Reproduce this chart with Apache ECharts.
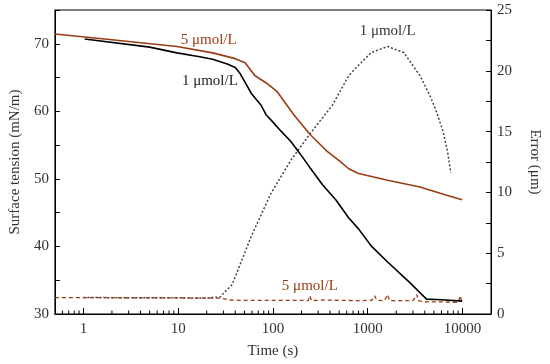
<!DOCTYPE html>
<html><head><meta charset="utf-8">
<script src="https://cdn.jsdelivr.net/npm/echarts@6/dist/echarts.min.js"></script>
<style>html,body{margin:0;padding:0;background:#fff}#c{width:550px;height:364px}</style>
</head><body><div id="c"></div>
<script>
// Surface tension, 1 umol/L (left axis)
const st1Time = [1.03, 5, 9.7, 16.9, 23.1, 33, 40, 45, 50.8, 59.5, 75, 84.5, 100, 121, 153, 194, 245, 335, 460, 631, 800, 1100, 1622, 2800, 4170, 6000, 9930];
const st1Val  = [70.7, 69.5, 68.65, 68.07, 67.7, 67.0, 66.5, 65.6, 64.3, 62.6, 60.9, 59.5, 58.4, 57.1, 55.6, 53.7, 51.7, 49.1, 46.9, 44.2, 42.6, 40.0, 37.7, 34.6, 32.2, 32.1, 31.9];
// Surface tension, 5 umol/L (left axis)
const st5Time = [0.5, 2, 9.7, 23.1, 40, 50.8, 64.3, 85, 111, 166, 245, 365, 499, 631, 800, 1622, 3560, 6660, 9930];
const st5Val  = [71.45, 70.6, 69.6, 68.65, 67.8, 67.2, 65.3, 64.2, 62.9, 59.5, 56.6, 54.2, 52.7, 51.5, 50.8, 49.8, 48.8, 47.6, 46.9];
// Error, 1 umol/L (right axis)
const er1Time = [1, 5, 10, 20, 27.9, 29.2, 37, 59.5, 95, 153, 245, 426, 631, 741, 1090, 1622, 2405, 3560, 4510, 5280, 6190, 6950, 7530];
const er1Val  = [1.35, 1.34, 1.33, 1.32, 1.4, 1.6, 2.4, 6.45, 9.9, 12.6, 14.8, 17.2, 19.6, 20.2, 21.5, 22.0, 21.5, 19.6, 18.0, 16.7, 15.1, 13.4, 11.6];
// Error, 5 umol/L (right axis)
const er5Time = [0.5, 1, 2, 5, 10, 20, 28, 35, 50, 80, 120, 200, 235, 245, 255, 350, 500, 800, 1100, 1180, 1250, 1500, 1620, 1700, 2000, 3000, 3300, 3400, 4000, 6000, 9000, 9500, 9800];
const er5Val  = [1.35, 1.35, 1.34, 1.33, 1.32, 1.3, 1.3, 1.15, 1.12, 1.12, 1.12, 1.12, 1.1, 1.5, 1.1, 1.15, 1.12, 1.1, 1.12, 1.5, 1.12, 1.1, 1.6, 1.1, 1.1, 1.1, 1.6, 1.1, 1.0, 1.0, 0.95, 1.5, 1.0];
// axis settings
const xMinorTicks = [0.6,0.7,0.8,0.9,2,3,4,5,6,7,8,9,20,30,40,50,60,70,80,90,200,300,400,500,600,700,800,900,2000,3000,4000,5000,6000,7000,8000,9000];
const leftLabels = [30, 40, 50, 60, 70];
const rightLabels = [0, 5, 10, 15, 20, 25];

const zip = (a, b) => a.map((v, i) => [v, b[i]]);
const FONT = "'Liberation Serif', 'Times New Roman', serif";
const BROWN = '#9a3b12';
const chart = echarts.init(document.getElementById('c'), null, {renderer: 'canvas'});
const txt = {fontFamily: FONT, fontSize: 15, color: '#333'};
const lineStyle = {color: '#000', width: 1};

function label(text, coord, color) {
  return {coord: coord, value: text, symbol: 'circle', symbolSize: 0,
    label: {show: true, position: 'inside', formatter: text, fontFamily: FONT, fontSize: 15, color: color}};
}

chart.setOption({
  animation: false,
  grid: {left: 48, right: 54, top: 10, bottom: 44, show: true, borderColor: '#000', borderWidth: 1},
  xAxis: {
    type: 'log', logBase: 10, min: 0.5, max: 20000,
    name: 'Time (s)', nameLocation: 'middle', nameGap: 30, nameTextStyle: txt,
    axisLine: {show: true, lineStyle: lineStyle},
    axisTick: {inside: true, length: 6, lineStyle: lineStyle},
    axisLabel: Object.assign({showMinLabel: false, showMaxLabel: false, margin: 8,
      formatter: v => String(Math.round(v))}, txt),
    splitLine: {show: false}
  },
  yAxis: [{
    type: 'value', min: 30, max: 75, interval: 5,
    name: 'Surface tension (mN/m)', nameLocation: 'middle', nameGap: 30, nameTextStyle: txt,
    axisLine: {show: true, lineStyle: lineStyle},
    axisTick: {inside: true, length: 5, lineStyle: lineStyle},
    axisLabel: Object.assign({margin: 6, formatter: v => leftLabels.includes(v) ? String(v) : ''}, txt),
    splitLine: {show: false}
  }, {
    type: 'value', min: 0, max: 25, interval: 2.5, position: 'right',
    name: 'Error (μm)', nameLocation: 'middle', nameGap: 36, nameRotate: -90, nameTextStyle: txt,
    axisLine: {show: true, lineStyle: lineStyle},
    axisTick: {inside: true, length: 5, lineStyle: lineStyle},
    axisLabel: Object.assign({margin: 6, formatter: v => rightLabels.includes(v) ? String(v) : ''}, txt),
    splitLine: {show: false}
  }],
  series: [
    {type: 'custom', xAxisIndex: 0, yAxisIndex: 0, clip: false, silent: true,
     data: xMinorTicks.map(t => [t, 30]),
     renderItem: (params, api) => {
       const p = api.coord([api.value(0), api.value(1)]);
       return {type: 'line', shape: {x1: p[0], y1: p[1], x2: p[0], y2: p[1] - 3.5}, style: {stroke: '#000', lineWidth: 1}};
     }},
    {type: 'line', yAxisIndex: 1, data: zip(er1Time, er1Val), showSymbol: false, symbol: 'none',
     lineStyle: {color: '#444', width: 1.5, type: [2, 2]}, z: 3,
     markPoint: {data: [label('1 μmol/L', [1622, 23.3], '#333')]}},
    {type: 'line', yAxisIndex: 1, data: zip(er5Time, er5Val), showSymbol: false, symbol: 'none',
     lineStyle: {color: BROWN, width: 1.3, type: [4, 3]}, z: 4,
     markPoint: {data: [label('5 μmol/L', [245, 2.26], BROWN)]}},
    {type: 'line', yAxisIndex: 0, data: zip(st1Time, st1Val), showSymbol: false, symbol: 'none',
     lineStyle: {color: '#000', width: 1.6}, z: 5,
     markPoint: {data: [label('1 μmol/L', [21.6, 64.5], '#222')]}},
    {type: 'line', yAxisIndex: 0, data: zip(st5Time, st5Val), showSymbol: false, symbol: 'none',
     lineStyle: {color: BROWN, width: 1.6}, z: 5,
     markPoint: {data: [label('5 μmol/L', [21, 70.6], BROWN)]}}
  ]
});
</script></body></html>
